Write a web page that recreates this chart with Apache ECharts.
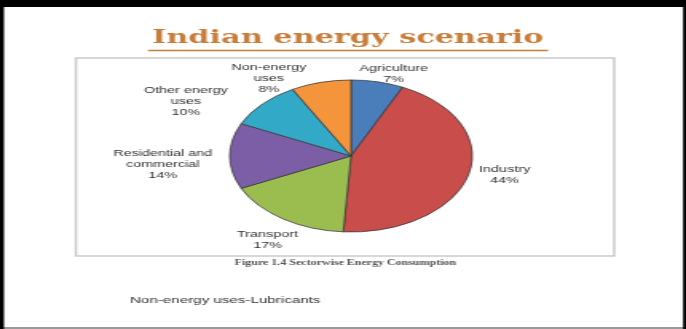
<!DOCTYPE html>
<html>
<head>
<meta charset="utf-8">
<script src="https://cdn.jsdelivr.net/npm/echarts@6/dist/echarts.min.js"></script>
<style>
html,body{margin:0;padding:0;background:#000;overflow:hidden;}
#wrap{position:absolute;left:0;top:0;width:430px;height:329px;transform:scaleX(1.5953);transform-origin:0 0;}
#chart{width:430px;height:329px;}
</style>
</head>
<body>
<div id="wrap"><div id="chart"></div></div>
<script>
// Data
var categories = ['Agriculture', 'Industry', 'Transport', 'Residential and\ncommercial', 'Other energy\nuses', 'Non-energy\nuses'];
var values = [7, 44, 17, 14, 10, 8];
var colors = ['#4a7ebb', '#c94d4b', '#9bbd4f', '#7c5ea6', '#33a9c8', '#f4953c'];

var titleText = 'Indian energy scenario';
var captionText = 'Figure 1.4 Sectorwise Energy Consumption';
var noteText = 'Non-energy uses-Lubricants';

// label offsets relative to ECharts outside label anchor
var labelDx = [-18, -6, 19, 2, -11, -2];
var labelDy = [0, -2, 15, 9, 3, 4];

var chart = echarts.init(document.getElementById('chart'), null, {renderer: 'canvas'});
chart.setOption({
  backgroundColor: '#000',
  animation: false,
  graphic: [
    {type: 'rect', z: -10, shape: {x: 2.5, y: 7, width: 425.7, height: 320}, style: {fill: '#ffffff'}},
    {type: 'rect', z: -10, shape: {x: 2.5, y: 327, width: 425.7, height: 2}, style: {fill: '#9a9a9a'}},
    {type: 'rect', z: -5, shape: {x: 47.6, y: 58, width: 337.4, height: 198}, style: {fill: 'none', stroke: '#cacaca', lineWidth: 1.5}},
    {type: 'text', z: 5, style: {text: titleText, x: 218, y: 38, textAlign: 'center', textVerticalAlign: 'middle', font: 'bold 19px "DejaVu Serif"', fill: '#c97d3b'}},
    {type: 'line', z: 5, shape: {x1: 92.8, y1: 50.5, x2: 343.6, y2: 50.5}, style: {stroke: '#c97d3b', lineWidth: 1.5}},
    {type: 'text', z: 5, style: {text: captionText, x: 216.5, y: 263, textAlign: 'center', textVerticalAlign: 'middle', font: 'bold 7.5px "Liberation Serif"', fill: '#555'}},
    {type: 'text', z: 5, style: {text: noteText, x: 81.5, y: 300, textAlign: 'left', textVerticalAlign: 'middle', font: '9.5px "Liberation Sans"', fill: '#333'}}
  ],
  series: [{
    type: 'pie',
    center: [220, 156],
    radius: 76,
    startAngle: 90,
    clockwise: true,
    avoidLabelOverlap: false,
    itemStyle: {borderColor: '#3a3a3a', borderWidth: 0.8},
    label: {
      show: true,
      position: 'outside',
      formatter: '{b}\n{d}%',
      fontFamily: 'Liberation Sans',
      fontSize: 9,
      lineHeight: 11,
      color: '#333'
    },
    labelLine: {show: false, length: 8, length2: 0},
    labelLayout: function (params) {
      var i = params.dataIndex;
      var r = params.labelRect;
      return {
        x: r.x + r.width / 2 + labelDx[i],
        y: r.y + r.height / 2 + labelDy[i],
        align: 'center',
        verticalAlign: 'middle'
      };
    },
    data: categories.map(function (c, i) {
      return {name: c, value: values[i], itemStyle: {color: colors[i]}};
    })
  }]
});
</script>
</body>
</html>
